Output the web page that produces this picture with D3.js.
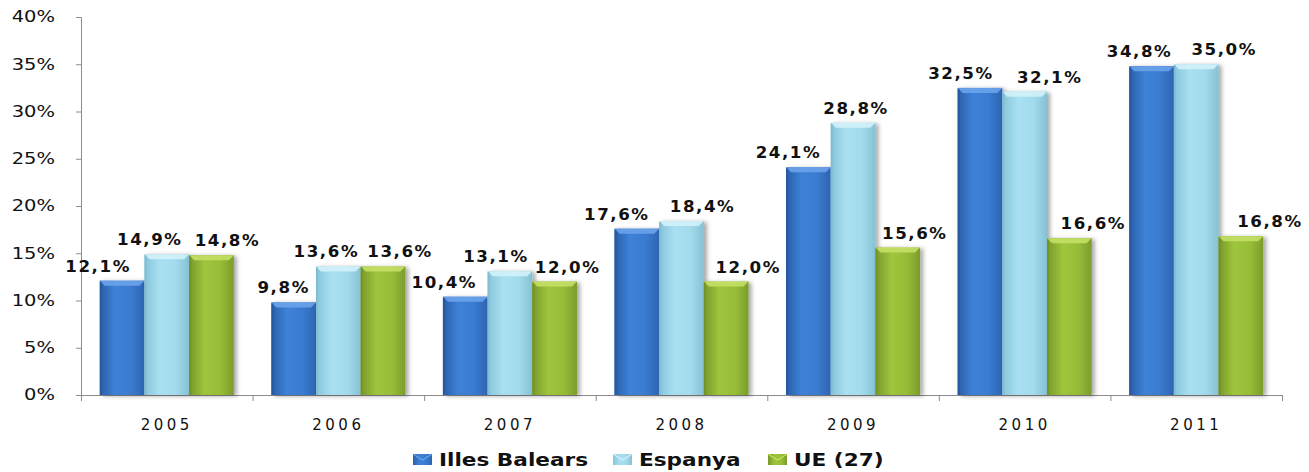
<!DOCTYPE html>
<html>
<head>
<meta charset="utf-8">
<script src="https://cdn.jsdelivr.net/npm/d3@7/dist/d3.min.js"></script>
<style>
  html, body { margin: 0; padding: 0; background: #fff; }
  svg { display: block; }
  text { font-family: "DejaVu Sans", Verdana, sans-serif; fill: #111; }
</style>
</head>
<body>
<svg id="chart" width="1309" height="472"></svg>
<script>
// Years on the category axis
const years = ["2005", "2006", "2007", "2008", "2009", "2010", "2011"];
// Series names (legend order)
const seriesNames = ["Illes Balears", "Espanya", "UE (27)"];
// Values in percent
const illesBalears = [12.1, 9.8, 10.4, 17.6, 24.1, 32.5, 34.8];
const espanya      = [14.9, 13.6, 13.1, 18.4, 28.8, 32.1, 35.0];
const ue27         = [14.8, 13.6, 12.0, 12.0, 15.6, 16.6, 16.8];
// Value-axis ticks
const yTicks = [0, 5, 10, 15, 20, 25, 30, 35, 40];

const seriesValues = [illesBalears, espanya, ue27];

// Horizontal nudges (px) of each value label from its bar centre, per series
const labelNudge = [
  [-24, -10, -21, -20, -20, -19, -12],
  [-17, -12, -14, 21, 3, 25, 28],
  [16, 17, 13, 22, 17, 24, 29]
];

const svg = d3.select("#chart");
const plot = { left: 81, right: 1282, top: 17, bottom: 395 };

const x = d3.scaleBand().domain(years).range([plot.left, plot.right]).padding(0);
const xs = d3.scaleBand().domain(d3.range(3)).range([0, x.bandwidth()])
  .paddingInner(0).paddingOuter(0.42);
const y = d3.scaleLinear().domain([0, 40]).range([plot.bottom, plot.top]);

// Shading for each series: darker edges, brighter body
const palettes = [
  { stops: ["#2a5ea8", "#3d82d8", "#3a7bd0", "#2d64b2"], top: "#6aa3ea", edge: "#25549a" },
  { stops: ["#86c4da", "#a9e0f1", "#a2dbec", "#86c1d4"], top: "#d2f2fa", edge: "#7fb8cb" },
  { stops: ["#78982a", "#9ec53c", "#97bd38", "#7c9c2c"], top: "#c4e066", edge: "#6e8d22" }
];

const defs = svg.append("defs");
palettes.forEach((p, i) => {
  const g = defs.append("linearGradient").attr("id", "grad" + i)
    .attr("x1", "0").attr("x2", "1").attr("y1", "0").attr("y2", "0");
  [0, 0.35, 0.7, 1].forEach((o, k) => g.append("stop").attr("offset", o).attr("stop-color", p.stops[k]));
});
const f = defs.append("filter").attr("id", "shadow")
  .attr("x", "-20%").attr("y", "-10%").attr("width", "150%").attr("height", "130%");
f.append("feDropShadow").attr("dx", 3).attr("dy", 1).attr("stdDeviation", 2)
  .attr("flood-color", "#000").attr("flood-opacity", 0.35);

// Text is drawn slightly widened horizontally
const stretch = 1.2;

// Value axis
const axisColor = "#8c8c8c";
const yAxis = svg.append("g").attr("transform", `translate(${plot.left},0)`)
  .call(d3.axisLeft(y).tickValues(yTicks).tickSize(5).tickFormat(d => d + "%"));
yAxis.select(".domain").attr("stroke", axisColor);
yAxis.selectAll(".tick line").attr("stroke", axisColor);
yAxis.selectAll(".tick text")
  .attr("x", 0).attr("dy", "0.32em")
  .attr("transform", `translate(-26,0) scale(1.3,1)`)
  .style("font-size", "15px").style("fill", "#111");

// Category axis
const boundaries = years.map(d => x(d)).concat([plot.right]);
const xAxis = svg.append("g");
xAxis.append("line")
  .attr("x1", plot.left).attr("x2", plot.right)
  .attr("y1", plot.bottom + 0.5).attr("y2", plot.bottom + 0.5)
  .attr("stroke", axisColor);
xAxis.selectAll("line.tk").data(boundaries).join("line").attr("class", "tk")
  .attr("x1", d => d + 0.5).attr("x2", d => d + 0.5)
  .attr("y1", plot.bottom).attr("y2", plot.bottom + 6)
  .attr("stroke", axisColor);
xAxis.selectAll("text").data(years).join("text")
  .attr("x", d => x(d) + x.bandwidth() / 2)
  .attr("y", plot.bottom + 35)
  .attr("text-anchor", "middle")
  .style("font-size", "15px").style("letter-spacing", "3.5px")
  .text(d => d);

// Bars
const bars = [];
years.forEach((yr, i) => {
  seriesValues.forEach((vals, s) => bars.push({ yr, i, s, v: vals[i] }));
});

const bevel = 5;
const groups = svg.append("g").selectAll("g.bar").data(bars).join("g").attr("class", "bar");
groups.append("rect")
  .attr("x", d => x(d.yr) + xs(d.s))
  .attr("y", d => y(d.v))
  .attr("width", xs.bandwidth())
  .attr("height", d => y(0) - y(d.v))
  .attr("fill", d => `url(#grad${d.s})`)
  .attr("filter", "url(#shadow)");
// bevelled top face
groups.append("path")
  .attr("d", d => {
    const x0 = x(d.yr) + xs(d.s), x1 = x0 + xs.bandwidth(), t = y(d.v);
    return `M${x0},${t}L${x1},${t}L${x1 - bevel},${t + bevel}L${x0 + bevel},${t + bevel}Z`;
  })
  .attr("fill", d => palettes[d.s].top).attr("opacity", 0.9);
// dark left edge
groups.append("rect")
  .attr("x", d => x(d.yr) + xs(d.s))
  .attr("y", d => y(d.v) + 1)
  .attr("width", 2)
  .attr("height", d => y(0) - y(d.v) - 1)
  .attr("fill", d => palettes[d.s].edge).attr("opacity", 0.6);

// Value labels
const fmt = v => v.toFixed(1).replace(".", ",") + "%";
svg.append("g").selectAll("text").data(bars).join("text")
  .attr("transform", d => {
    const cx = x(d.yr) + xs(d.s) + xs.bandwidth() / 2 + labelNudge[d.s][d.i];
    return `translate(${cx},${y(d.v) - 9}) scale(1.04,1)`;
  })
  .attr("text-anchor", "middle")
  .style("font-size", "16px").style("font-weight", "bold").style("letter-spacing", "1.5px")
  .text(d => fmt(d.v));

// Legend
const legend = svg.append("g").attr("transform", "translate(0,466)");
const legendX = [413, 613, 768];
seriesNames.forEach((name, s) => {
  const g = legend.append("g").attr("transform", `translate(${legendX[s]},0)`);
  g.append("rect").attr("x", 0).attr("y", -12).attr("width", 19).attr("height", 11)
    .attr("fill", `url(#grad${s})`);
  g.append("path").attr("d", "M0,-12L9.5,-6L19,-12").attr("fill", "none")
    .attr("stroke", palettes[s].top).attr("stroke-width", 1.2);
  g.append("text").attr("transform", `translate(26,0) scale(${stretch},1)`)
    .style("font-size", "18px").style("font-weight", "bold")
    .text(name);
});
</script>
</body>
</html>
